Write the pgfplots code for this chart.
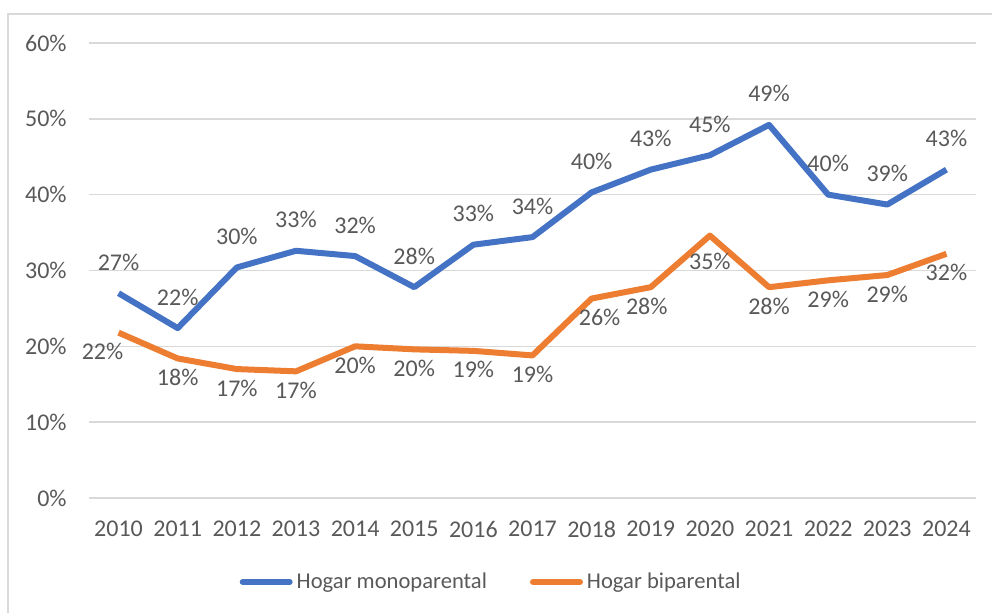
\documentclass[border=0pt]{standalone}
\usepackage{fontspec}
\setmainfont{Carlito}
\usepackage{pgfplots}
\pgfplotsset{compat=1.18}
\definecolor{serieA}{HTML}{4472C4}
\definecolor{serieB}{HTML}{ED7D31}
\definecolor{textgray}{HTML}{595959}
\definecolor{gridgray}{HTML}{D9D9D9}

\begin{document}
\begin{tikzpicture}
\begin{axis}[
  at={(0,0)}, anchor=south west,
  width=443.5pt, height=227.5pt, scale only axis,
  xmin=-0.5, xmax=14.5, ymin=0, ymax=60,
  clip=false,
  xtick={0,...,14},
  xticklabels={2010,2011,2012,2013,2014,2015,2016,2017,2018,2019,2020,2021,2022,2023,2024},
  ytick={0,10,...,60},
  yticklabels={0\%,10\%,20\%,30\%,40\%,50\%,60\%},
  axis line style={draw=none},
  major tick length=0pt,
  tick style={draw=none},
  ymajorgrids,
  grid style={color=gridgray, line width=0.75pt},
  tick label style={font=\fontsize{12}{14}\selectfont, text=textgray},
  xticklabel style={anchor=north, inner sep=0pt, yshift=-11.5pt},
  yticklabel style={anchor=east, inner sep=0pt, xshift=-11pt},
  nodes near coords={\pgfmathprintnumber[fixed,precision=0,assume math mode=true]{\pgfplotspointmeta}\%},
  point meta=y,
  visualization depends on={\thisrow{dx} \as \dx},
  visualization depends on={\thisrow{dy} \as \dy},
  nodes near coords style={anchor=base, inner sep=0pt, font=\fontsize{12}{14}\selectfont,
    text=textgray, xshift=\dx pt, yshift=\dy pt},
  legend columns=2,
  legend style={at={(0.4545,-0.1846)}, anchor=center, draw=none, fill=none,
    font=\fontsize{11.3}{13}\selectfont, text=textgray,
    nodes={inner xsep=2pt, inner ysep=0pt},
    /tikz/every even column/.append style={column sep=19.5pt}},
  legend image code/.code={\draw[#1, line cap=round] (0pt,0pt) -- (23.5pt,0pt);},
]
\addplot[serieA, line width=3pt, line join=round] table[x=x, y=y] {
x y dx dy
0  27.0 0 11.5
1  22.4 0 11.5
2  30.4 0 11.5
3  32.6 0 11.5
4  31.9 0 11.5
5  27.8 0 11.5
6  33.4 0 11.5
7  34.4 0 11.5
8  40.3 0 11.5
9  43.3 0 11.5
10 45.2 0 11.5
11 49.2 0 11.5
12 40.0 0 11.5
13 38.7 0 11.5
14 43.3 0 11.5
};
\addlegendentry{Hogar monoparental}
\addplot[serieB, line width=3pt, line join=round] table[x=x, y=y] {
x y dx dy
0  21.8 -8 -13.5
1  18.4 0 -13.5
2  17.0 0 -13.5
3  16.7 0 -13.5
4  20.0 0 -13.5
5  19.6 0 -13.5
6  19.4 0 -13.5
7  18.8 0 -13.5
8  26.3 4 -13.5
9  27.8 -2 -13.5
10 34.6 0 -17
11 27.8 0 -13.5
12 28.7 0 -13.5
13 29.4 0 -13.5
14 32.2 0 -13.5
};
\addlegendentry{Hogar biparental}
\end{axis}
\draw[gridgray, line width=0.75pt] (-40.5pt,-80pt) -- (-40.5pt,242pt) -- (480pt,242pt);
\pgfresetboundingbox
\useasboundingbox (-44.5pt,-57.5pt) rectangle (451.5pt,249pt);
\end{tikzpicture}
\end{document}
